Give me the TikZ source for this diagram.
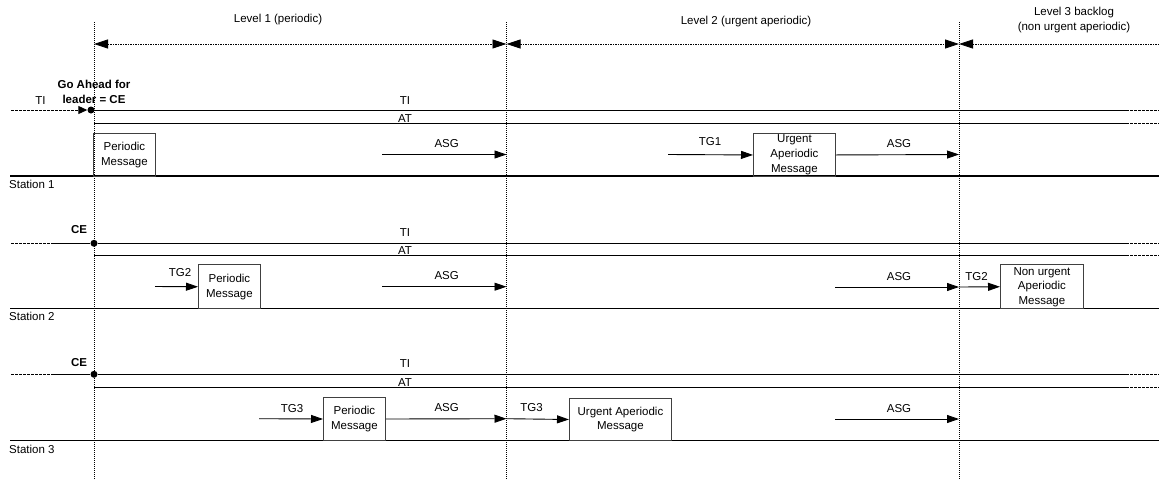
\documentclass[tikz,border=0pt]{standalone}
\usepackage{fontspec}
\setmainfont{Liberation Sans}
\usetikzlibrary{arrows.meta}
\begin{document}
\begin{tikzpicture}[x=1pt,y=-1pt,
  lbl/.style={inner sep=0pt, font=\fontsize{11.5}{15}\selectfont, align=center},
  blbl/.style={inner sep=0pt, font=\fontsize{11.5}{15}\selectfont\bfseries, align=center},
  msg/.style={draw=black!75, line width=0.9pt, inner sep=0pt, align=center, anchor=north west, font=\fontsize{11.5}{14.8}\selectfont},
  sig/.style={line width=0.9pt, -{Triangle[length=12pt,width=8pt]}},
  bar/.style={dash pattern=on 1pt off 1pt, line width=0.8pt},
  lvl/.style={dash pattern=on 1.5pt off 1pt, line width=0.8pt},
  track/.style={line width=0.9pt},
  tail/.style={line width=0.9pt, dash pattern=on 3pt off 1pt},
  base/.style={line width=1.6pt},
  dotnode/.style={circle, fill=black, inner sep=0pt, minimum size=7pt},
  tipL/.style={{Triangle[length=14pt,width=9pt]}-{Triangle[length=14pt,width=9pt]}},
  tipS/.style={{Triangle[length=14pt,width=9pt]}-}
]
\useasboundingbox (0,0) rectangle (1159,480);

% vertical level boundaries
\coordinate (v1t) at (94,22);   \coordinate (v1b) at (94,480);
\coordinate (v2t) at (506.5,22);\coordinate (v2b) at (506.5,480);
\coordinate (v3t) at (959,22);  \coordinate (v3b) at (959,480);
\draw[bar] (v1t) -- (v1b);
\draw[bar] (v2t) -- (v2b);
\draw[bar] (v3t) -- (v3b);

% level arrows
\coordinate (h1) at (94,44); \coordinate (h2) at (506.5,44);
\coordinate (h3) at (959,44); \coordinate (h4) at (1159,44);
\draw[lvl,tipL] (h1) -- (h2);
\draw[lvl,tipL] (h2) -- (h3);
\draw[lvl,tipS] (h3) -- (h4);
\node[lbl] (lv1) at (278,20) {Level 1 (periodic)};
\node[lbl] (lv2) at (746,22) {Level 2 (urgent aperiodic)};
\node[lbl] (lv3) at (1074,20) {Level 3 backlog\\(non urgent aperiodic)};

% ---------------- Station 1 ----------------
\coordinate (s1in) at (11,110);
\node[dotnode] (g1) at (91,110) {};
\coordinate (s1ti) at (1126,110); \coordinate (s1tie) at (1159,110);
\coordinate (s1at0) at (94,123); \coordinate (s1at) at (1126,123); \coordinate (s1ate) at (1159,123);
\coordinate (s1b0) at (10,176); \coordinate (s1b1) at (1159,176);
\draw[tail,-{Triangle[length=9pt,width=8pt]}] (s1in) -- (g1.west);
\draw[track] (g1) -- (s1ti);
\draw[tail] (s1ti) -- (s1tie);
\draw[track] (s1at0) -- (s1at);
\draw[tail] (s1at) -- (s1ate);
\draw[base] (s1b0) -- (s1b1);
\node[lbl] (ti1l) at (40.5,100.5) {TI};
\node[blbl] (ga) at (94,91.5) {Go Ahead for\\leader = CE};
\node[lbl] (ti1) at (405,101) {TI};
\node[lbl] (at1) at (405,119) {AT};
\node[lbl,anchor=west] (st1) at (9,184.5) {Station 1};
\node[msg, minimum width=62pt, minimum height=43pt] (p1) at (93,133) {Periodic\\Message};
\coordinate (a1s) at (382,154.5); \coordinate (a1e) at (506.5,154.5);
\draw[sig] (a1s) -- (a1e);
\node[lbl] (asg1) at (446.7,144) {ASG};
\node[msg, minimum width=82pt, minimum height=43pt] (u1) at (753,133) {Urgent\\Aperiodic\\Message};
\coordinate (tg1s) at (668,154.5);
\draw[sig] (tg1s) -- (u1.west);
\node[lbl] (tg1) at (710,141.5) {TG1};
\coordinate (a1e2) at (959,154.5);
\draw[sig] (u1.east) -- (a1e2);
\node[lbl] (asg1b) at (899,144) {ASG};

% ---------------- Station 2 ----------------
\coordinate (s2in) at (11,243.3); \coordinate (s2mid) at (54,243.3);
\node[dotnode] (g2) at (94,243.3) {};
\coordinate (s2ti) at (1126,243.3); \coordinate (s2tie) at (1159,243.3);
\coordinate (s2at0) at (94,255.7); \coordinate (s2at) at (1126,255.7); \coordinate (s2ate) at (1159,255.7);
\coordinate (s2b0) at (10,308.3); \coordinate (s2b1) at (1159,308.3);
\draw[tail] (s2in) -- (s2mid);
\draw[track] (s2mid) -- (g2);
\draw[track] (g2) -- (s2ti);
\draw[tail] (s2ti) -- (s2tie);
\draw[track] (s2at0) -- (s2at);
\draw[tail] (s2at) -- (s2ate);
\draw[base] (s2b0) -- (s2b1);
\node[blbl] (ce2) at (79,229.5) {CE};
\node[lbl] (ti2) at (405,232.5) {TI};
\node[lbl] (at2) at (405,251) {AT};
\node[lbl,anchor=west] (st2) at (9,316.5) {Station 2};
\node[msg, minimum width=62pt, minimum height=44pt] (p2) at (198,264.3) {Periodic\\Message};
\coordinate (tg2s) at (155,286.5);
\draw[sig] (tg2s) -- (p2.west);
\node[lbl] (tg2) at (180,273) {TG2};
\coordinate (a2s) at (382,286.7); \coordinate (a2e) at (506.5,286.7);
\draw[sig] (a2s) -- (a2e);
\node[lbl] (asg2) at (446.7,276) {ASG};
\coordinate (a2s2) at (835,287); \coordinate (a2e2) at (959,287);
\draw[sig] (a2s2) -- (a2e2);
\node[lbl] (asg2b) at (899,277) {ASG};
\node[msg, minimum width=83pt, minimum height=44pt, font=\fontsize{11.5}{14.5}\selectfont] (n2) at (1000,264.3) {Non urgent\\Aperiodic\\Message};
\draw[sig] (a2e2) -- (n2.west);
\node[lbl] (tg2b) at (976.5,277) {TG2};

% ---------------- Station 3 ----------------
\coordinate (s3in) at (11,374.3); \coordinate (s3mid) at (54,374.3);
\node[dotnode] (g3) at (94,374.3) {};
\coordinate (s3ti) at (1126,374.3); \coordinate (s3tie) at (1159,374.3);
\coordinate (s3at0) at (94,387.3); \coordinate (s3at) at (1126,387.3); \coordinate (s3ate) at (1159,387.3);
\coordinate (s3b0) at (10,440.3); \coordinate (s3b1) at (1159,440.3);
\draw[tail] (s3in) -- (s3mid);
\draw[track] (s3mid) -- (g3);
\draw[track] (g3) -- (s3ti);
\draw[tail] (s3ti) -- (s3tie);
\draw[track] (s3at0) -- (s3at);
\draw[tail] (s3at) -- (s3ate);
\draw[base] (s3b0) -- (s3b1);
\node[blbl] (ce3) at (79,363) {CE};
\node[lbl] (ti3) at (405,363.5) {TI};
\node[lbl] (at3) at (405,382.5) {AT};
\node[lbl,anchor=west] (st3) at (9,449.5) {Station 3};
\node[msg, minimum width=62pt, minimum height=43.5pt] (p3) at (323,396.8) {Periodic\\Message};
\coordinate (tg3s) at (259,418.7);
\draw[sig] (tg3s) -- (p3.west);
\node[lbl] (tg3) at (292,409) {TG3};
\coordinate (a3e) at (506.5,418.7);
\draw[sig] (p3.east) -- (a3e);
\node[lbl] (asg3) at (446.7,408) {ASG};
\node[msg, minimum width=102pt, minimum height=42.5pt] (u3) at (569,397.8) {Urgent Aperiodic\\Message};
\draw[sig] (a3e) -- (u3.west);
\node[lbl] (tg3b) at (531.5,408) {TG3};
\coordinate (a3s2) at (835,419); \coordinate (a3e2) at (959,419);
\draw[sig] (a3s2) -- (a3e2);
\node[lbl] (asg3b) at (899,408.7) {ASG};
\end{tikzpicture}
\end{document}
